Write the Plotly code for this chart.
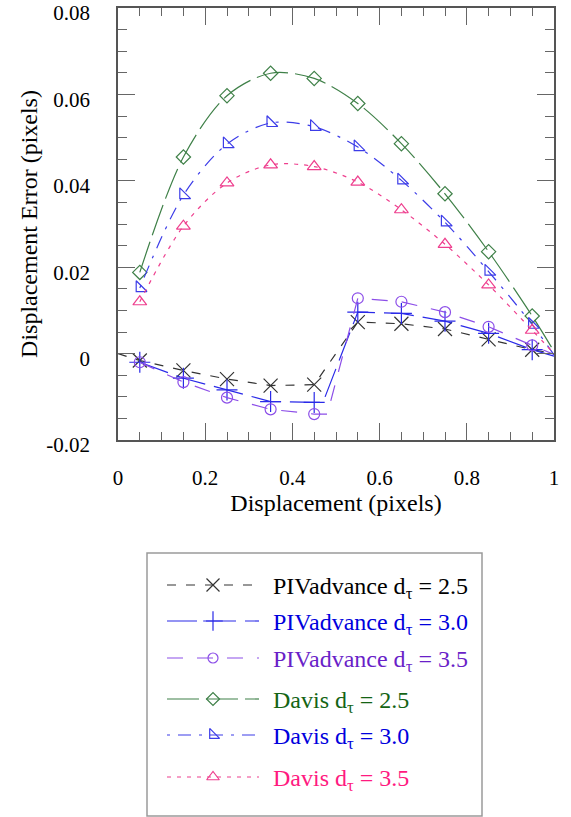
import plotly.graph_objects as go

# ---------------- data ----------------
x_pts = [0.05, 0.15, 0.25, 0.35, 0.45, 0.55, 0.65, 0.75, 0.85, 0.95]

piv25 = [-0.0016, -0.0039, -0.0059, -0.0074, -0.0072, 0.0073, 0.0069, 0.0057, 0.0033, 0.0009]
piv30 = [-0.0020, -0.0057, -0.0084, -0.0111, -0.0113, 0.0096, 0.0093, 0.0075, 0.0047, 0.0009]
piv35 = [-0.0020, -0.0066, -0.0102, -0.0129, -0.0140, 0.0128, 0.0120, 0.0096, 0.0062, 0.0019]
davis25 = [0.0188, 0.0455, 0.0597, 0.0649, 0.0637, 0.0579, 0.0486, 0.0370, 0.0236, 0.0087]
davis30 = [0.0152, 0.0367, 0.0485, 0.0534, 0.0525, 0.0478, 0.0401, 0.0304, 0.0190, 0.0067]
davis35 = [0.0120, 0.0295, 0.0395, 0.0437, 0.0433, 0.0397, 0.0333, 0.0253, 0.0159, 0.0054]

# line paths
piv25_line_x = [0.0, 0.05, 0.15, 0.25, 0.35, 0.45, 0.55, 0.65, 0.75, 0.85, 0.95, 1.0]
piv25_line_y = [0.0, -0.0016, -0.0039, -0.0059, -0.0074, -0.0072, 0.0073, 0.0069, 0.0057, 0.0033, 0.0009, 0.0]
piv30_line_x = [0.05, 0.15, 0.25, 0.35, 0.45, 0.47, 0.55, 0.65, 0.75, 0.85, 0.95, 1.0]
piv30_line_y = [-0.0020, -0.0057, -0.0084, -0.0111, -0.0113, -0.0113, 0.0096, 0.0093, 0.0075, 0.0047, 0.0009, -0.0006]
piv35_line_x = [0.05, 0.15, 0.25, 0.35, 0.45, 0.48, 0.55, 0.65, 0.75, 0.85, 0.95, 1.0]
piv35_line_y = [-0.0020, -0.0066, -0.0102, -0.0129, -0.0140, -0.0140, 0.0128, 0.0120, 0.0096, 0.0062, 0.0019, -0.0002]
davis_line_x = [0.05, 0.15, 0.25, 0.35, 0.45, 0.55, 0.65, 0.75, 0.85, 0.95, 1.0]
davis25_line_y = [0.0188, 0.0455, 0.0597, 0.0649, 0.0637, 0.0579, 0.0486, 0.0370, 0.0236, 0.0087, 0.0005]
davis30_line_y = [0.0152, 0.0367, 0.0485, 0.0534, 0.0525, 0.0478, 0.0401, 0.0304, 0.0190, 0.0067, -0.0003]
davis35_line_y = [0.0120, 0.0295, 0.0395, 0.0437, 0.0433, 0.0397, 0.0333, 0.0253, 0.0159, 0.0054, 0.0]

names = ["PIVadvance d<sub>τ</sub> = 2.5", "PIVadvance d<sub>τ</sub> = 3.0", "PIVadvance d<sub>τ</sub> = 3.5",
         "Davis d<sub>τ</sub> = 2.5", "Davis d<sub>τ</sub> = 3.0", "Davis d<sub>τ</sub> = 3.5"]

x_tickvals = [0, 0.2, 0.4, 0.6, 0.8, 1.0]
x_ticktext = ["0", "0.2", "0.4", "0.6", "0.8", "1"]
y_tickvals = [-0.02, 0.0, 0.02, 0.04, 0.06, 0.08]
y_ticktext = ["-0.02", "0", "0.02", "0.04", "0.06", "0.08"]

# ---------------- styles ----------------
FONT = "Liberation Serif"
W, H = 571, 817
line_cols = ["#333333", "#2a2ae8", "#8c4ee8", "#3f8048", "#3c3ce8", "#ee3f8e"]
text_cols = ["#000000", "#0000dd", "#6a1fc8", "#146414", "#0000dd", "#ff1a80"]
dashes = ["9px,10px", "30px,9px", "16px,14px", "32px,7px", "3px,8px,13px,8px", "4px,6px"]
symbols = ["x-thin-open", "cross-thin-open", "circle-open", "diamond-open", "triangle-sw-open", "triangle-up-open"]
msizes = [14, 15, 11, 11, 12, 12]

series_lines = [
    (piv25_line_x, piv25_line_y, "linear"),
    (piv30_line_x, piv30_line_y, "linear"),
    (piv35_line_x, piv35_line_y, "linear"),
    (davis_line_x, davis25_line_y, "spline"),
    (davis_line_x, davis30_line_y, "spline"),
    (davis_line_x, davis35_line_y, "spline"),
]
series_pts = [piv25, piv30, piv35, davis25, davis30, davis35]

fig = go.Figure()
for i in range(6):
    lx, ly, shape = series_lines[i]
    fig.add_trace(go.Scatter(
        x=lx, y=ly, mode="lines", showlegend=False, hoverinfo="skip",
        line=dict(color=line_cols[i], width=1.2, dash=dashes[i], shape=shape, smoothing=0.9),
        xaxis="x", yaxis="y"))
    fig.add_trace(go.Scatter(
        x=x_pts, y=series_pts[i], mode="markers", showlegend=False,
        marker=dict(symbol=symbols[i], size=msizes[i], color=line_cols[i],
                    line=dict(color=line_cols[i], width=1.2)),
        xaxis="x", yaxis="y"))

# ---------------- custom legend (pixel-based axes) ----------------
leg_x0, leg_x1, leg_y0, leg_y1 = 147, 482, 553, 816
row_y = [32, 68, 105, 146, 182, 224]
sample_x = [20, 112]
for i in range(6):
    fig.add_trace(go.Scatter(
        x=sample_x, y=[row_y[i], row_y[i]], mode="lines", showlegend=False, hoverinfo="skip",
        line=dict(color=line_cols[i], width=1.2, dash=dashes[i]), xaxis="x2", yaxis="y2"))
    fig.add_trace(go.Scatter(
        x=[(sample_x[0] + sample_x[1]) / 2], y=[row_y[i]], mode="markers", showlegend=False,
        marker=dict(symbol=symbols[i], size=msizes[i] - 1, color=line_cols[i],
                    line=dict(color=line_cols[i], width=1.2)),
        xaxis="x2", yaxis="y2"))
    fig.add_annotation(x=124, y=row_y[i] + 3, xref="x2", yref="y2", text=names[i],
                       showarrow=False, xanchor="left", yanchor="middle",
                       font=dict(family=FONT, size=24, color=text_cols[i]))

fig.add_shape(type="rect", xref="paper", yref="paper",
              x0=leg_x0 / W, x1=leg_x1 / W, y0=1 - leg_y1 / H, y1=1 - leg_y0 / H,
              line=dict(color="#9a9a9a", width=1.5), fillcolor="rgba(0,0,0,0)")

axis_common = dict(
    showgrid=False, zeroline=False, showline=True, linecolor="#555555", linewidth=1.5,
    mirror="ticks", ticks="inside", ticklen=17, tickwidth=1.3, tickcolor="#666666",
    tickfont=dict(family=FONT, size=21, color="black"), automargin=False,
    ticklabeloverflow="allow",
)

fig.update_layout(
    width=W, height=H,
    margin=dict(l=0, r=0, t=0, b=0, pad=0),
    paper_bgcolor="white", plot_bgcolor="rgba(0,0,0,0)",
    font=dict(family=FONT, color="black"),
    xaxis=dict(domain=[118 / W, 554 / W], range=[-0.000001, 1.000001], tickvals=x_tickvals, ticktext=x_ticktext,
               minor=dict(dtick=0.05, ticklen=8, ticks="inside", tickcolor="#666666", tickwidth=1.2),
               ticklabelstandoff=18,
               title=dict(text="Displacement (pixels)", font=dict(family=FONT, size=24), standoff=5),
               anchor="y", **axis_common),
    yaxis=dict(domain=[1 - 440 / H, 1 - 8 / H], range=[-0.0200001, 0.0800001], tickvals=y_tickvals,
               ticktext=y_ticktext,
               minor=dict(dtick=0.005, ticklen=9, ticks="inside", tickcolor="#666666", tickwidth=1.2),
               ticklabelstandoff=22, ticklabelshift=5,
               title=dict(text="Displacement Error (pixels)", font=dict(family=FONT, size=24), standoff=2),
               anchor="x", **axis_common),
    xaxis2=dict(domain=[leg_x0 / W, leg_x1 / W], range=[0, leg_x1 - leg_x0], visible=False,
                anchor="y2", fixedrange=True, automargin=False),
    yaxis2=dict(domain=[1 - leg_y1 / H, 1 - leg_y0 / H], range=[leg_y1 - leg_y0, 0], visible=False,
                anchor="x2", fixedrange=True, automargin=False),
)

fig.write_html("out.html")
